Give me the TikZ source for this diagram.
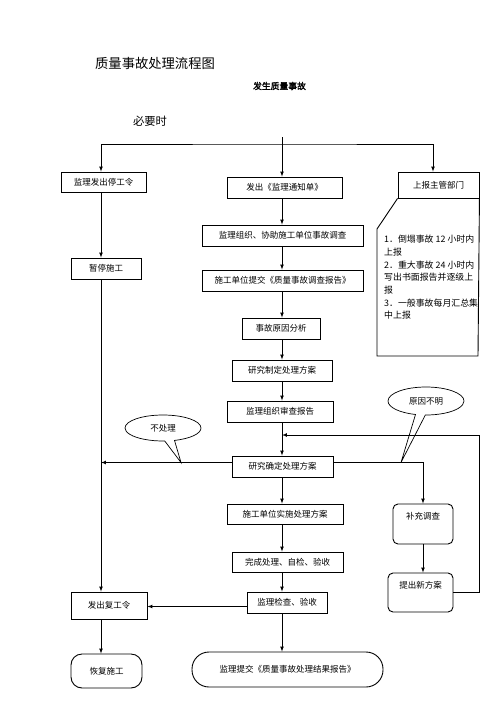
\documentclass[tikz,border=0pt]{standalone}
\usepackage{fontspec}
\setmainfont{Noto Sans CJK SC}[BoldFont={Noto Sans CJK SC},BoldFeatures={FakeBold=2}]
\usetikzlibrary{shapes.callouts}

\def\xl{101}
\def\xm{282}
\def\xr{433}

\tikzset{box/.style={draw, line width=0.9pt, inner sep=0pt,
                     font=\fontsize{8.5}{12}\selectfont}}
\tikzset{rbox/.style={box, rounded corners=5pt, align=center}}
\tikzset{bubble/.style={ellipse callout, draw, line width=0.7pt, inner sep=0pt,
                        font=\fontsize{8.5}{10}\selectfont}}
\tikzset{link/.style={line width=0.7pt}}

\begin{document}
\begin{tikzpicture}[x=1pt, y=-1pt, >=latex]

\useasboundingbox[fill=white] (0,0) rectangle (500,707);

%headings
\node (title) at (155, 63) {\fontsize{13.3}{16}\selectfont 质量事故处理流程图};
\node (occur) at (279.5, 86) {\fontsize{8.8}{10}\selectfont\bfseries 发生质量事故};
\node (need)  at (150,121) {\fontsize{11.3}{13}\selectfont 必要时};

\coordinate (lx)    at (\xl,  0);
\coordinate (spine) at (\xm,  0);
\coordinate (rx)    at (\xr,  0);
\coordinate (top)   at (\xm,137);
\coordinate (bar)   at (\xm,144);

%left column
\node[box, minimum width=85, minimum height=20] (stop)    at (103.5,182)   {监理发出停工令};
\node[box, minimum width=70, minimum height=21] (pause)   at (106,268.5)   {暂停施工};
\node[box, minimum width=76, minimum height=27] (reorder) at (109,605.5)   {发出复工令};
\node[box, rounded corners=11pt, minimum width=71, minimum height=34] (restart) at (106.5,671) {恢复施工};

%middle column
\node[box, minimum width=115, minimum height=21] (notice)    at (284.5,187.5) {发出《监理通知单》};
\node[box, minimum width=161, minimum height=21] (invest)    at (282.5,235.5) {监理组织、协助施工单位事故调查};
\node[box, minimum width=161, minimum height=21] (submit)    at (282.5,280.5) {施工单位提交《质量事故调查报告》};
\node[box, minimum width=78,  minimum height=21] (cause)     at (281,328.5)   {事故原因分析};
\node[box, minimum width=100, minimum height=21] (plan)      at (282,370.5)   {研究制定处理方案};
\node[box, minimum width=106, minimum height=21] (review)    at (280,411.5)   {监理组织审查报告};
\node[box, minimum width=101, minimum height=21] (decide)    at (282.5,466.5) {研究确定处理方案\hspace{10pt}};
\node[box, minimum width=116, minimum height=20] (implement) at (285,514)     {施工单位实施处理方案};
\node[box, minimum width=111, minimum height=20] (complete)  at (287.5,562)   {完成处理、自检、验收};
\node[box, minimum width=80,  minimum height=21] (check)     at (287,602.5)   {监理检查、验收};
\node[box, rounded corners=17pt, minimum width=191, minimum height=35] (final) at (287.5,669.5) {监理提交《质量事故处理结果报告》};

%right column
\node[box, minimum width=81, minimum height=26] (report)  at (438.5,185)   {上报主管部门};
\node[rbox, minimum width=60, minimum height=40] (supp)    at (423,524)     {补充调查\\[4pt]\mbox{}};
\node[rbox, minimum width=65, minimum height=39] (newplan) at (420.5,592.5) {提出新方案\\[4pt]\mbox{}};

%notes under report
\draw[line width=0.9pt] (report.south west) -- (377,229) -- (377,356)
                     -- (478,356) -- (report.south east);
\node[anchor=north west, inner sep=0pt, align=left,
      font=\fontsize{8.9}{12.7}\selectfont] (notes) at (384,235)
      {1．倒塌事故 12 小时内\\上报\\2．重大事故 24 小时内\\写出书面报告并逐级上\\报\\3．一般事故每月汇总集\\中上报};

%callouts
\coordinate (tipa) at (181,462.5);
\coordinate (tipb) at (401,462.5);
\node[bubble, minimum width=76, minimum height=26, callout absolute pointer={(tipa)}] (nodeal)  at (163,428) {不处理};
\node[bubble, minimum width=76, minimum height=28, callout absolute pointer={(tipb)}] (unclear) at (426,401) {原因不明};

%top split
\draw[link, ->] (top) -- (notice.north -| top);
\draw[link, <->] (stop.north -| lx) |- (bar) -| (report.north -| rx);

%main line
\draw[link, ->] (notice.south -| spine)    -- (invest.north -| spine);
\draw[link, ->] (invest.south -| spine)    -- (submit.north -| spine);
\draw[link, ->] (submit.south -| spine)    -- (cause.north -| spine);
\draw[link, ->] (cause.south -| spine)     -- (plan.north -| spine);
\draw[link, ->] (plan.south -| spine)      -- (review.north -| spine);
\draw[link, ->] (review.south -| spine)    -- (decide.north -| spine);
\draw[link, ->] (decide.south -| spine)    -- (implement.north -| spine);
\draw[link, ->] (implement.south -| spine) -- (complete.north -| spine);
\draw[link, ->] (complete.south -| spine)  -- (check.north -| spine);
\draw[link, ->] (check.south -| spine)     -- (final.north -| spine);

%left line
\draw[link, ->] (stop.south -| lx)    -- (pause.north -| lx);
\draw[link, ->] (pause.south -| lx)   -- (reorder.north -| lx);
\draw[link, ->] (reorder.south -| lx) -- (restart.north -| lx);
\draw[link, ->] ([yshift=4pt]decide.west) -- ([yshift=4pt]decide.west -| lx);
\draw[link, ->] ([yshift=-4pt]check.west) -- ([yshift=-4pt]check.west -| reorder.east);

%right loop
\coordinate (merge) at (\xm,435);
\coordinate (loop)  at (479,435);
\draw[link, ->] ([yshift=4pt]decide.east) -| (supp.north);
\draw[link, ->] (supp.south) -- (newplan.north -| supp.south);
\draw[link, ->] (newplan.east) -| (loop) -- (merge);

\end{tikzpicture}
\end{document}
